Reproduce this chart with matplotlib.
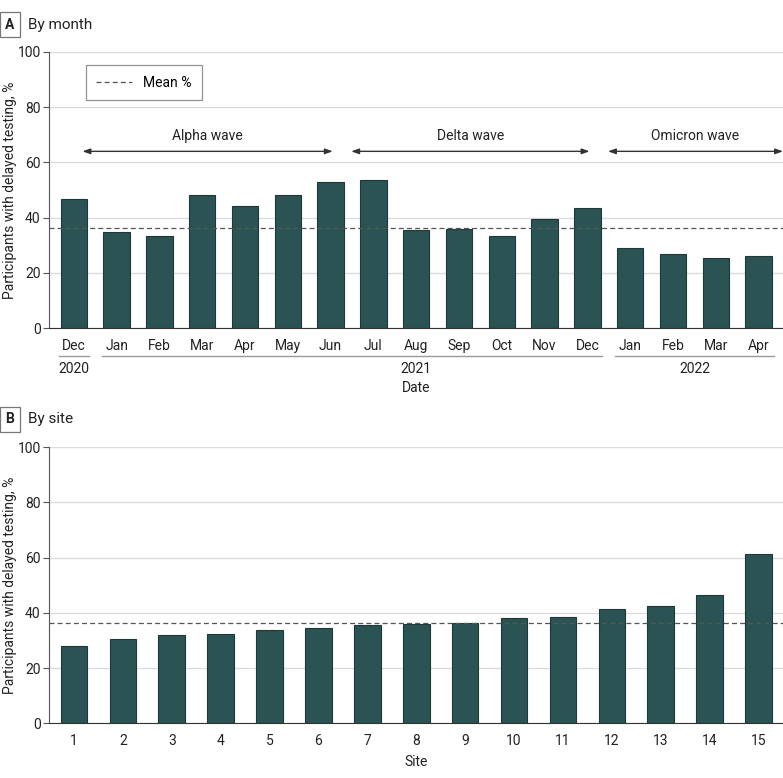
import matplotlib
matplotlib.use('Agg')
import matplotlib.pyplot as plt
import matplotlib.transforms as mtransforms

plt.rcParams['font.family'] = ['Roboto', 'DejaVu Sans']

# panel A data
months = ['Dec', 'Jan', 'Feb', 'Mar', 'Apr', 'May', 'Jun', 'Jul', 'Aug',
          'Sep', 'Oct', 'Nov', 'Dec', 'Jan', 'Feb', 'Mar', 'Apr']
month_pct = [46.6, 34.7, 33.2, 48.1, 44.2, 48.2, 52.8, 53.5, 35.5,
             36.0, 33.3, 39.6, 43.4, 29.1, 26.8, 25.2, 26.2]
years = ['2020', '2021', '2022']
year_span = [(0, 0), (1, 12), (13, 16)]
waves = ['Alpha wave', 'Delta wave', 'Omicron wave']
wave_span = [(0, 6), (6, 12), (12, 16)]

# panel B data
sites = [str(i) for i in range(1, 16)]
site_pct = [27.9, 30.7, 31.9, 32.4, 33.7, 34.4, 35.5, 36.0, 36.3,
            38.0, 38.5, 41.4, 42.5, 46.6, 61.3]
mean_pct = 36.2

bar_col = '#2b5353'
edge_col = '#1e3838'
txt_col = '#222222'
fs = 10

fig = plt.figure(figsize=(7.83, 7.78), dpi=100)
axA = fig.add_axes([0.0626, 0.5784, 0.9374, 0.3548])
axB = fig.add_axes([0.0626, 0.0703, 0.9374, 0.3548])


def style(ax):
    ax.set_ylim(0, 100)
    ax.set_yticks([0, 20, 40, 60, 80, 100])
    ax.yaxis.grid(True, color='#dcdcdc', lw=1)
    ax.set_axisbelow(True)
    for s in ['top', 'right']:
        ax.spines[s].set_visible(False)
    ax.spines['left'].set_color('#555555')
    ax.spines['bottom'].set_color('#333333')
    ax.tick_params(axis='y', length=4, color='#555555', labelsize=fs, labelcolor=txt_col, pad=2)
    ax.tick_params(axis='x', length=0, labelsize=fs, labelcolor=txt_col, pad=8)
    ax.set_ylabel('Participants with delayed testing, %', fontsize=fs, color=txt_col)
    ax.yaxis.set_label_coords(-0.043, 0.5)
    ax.axhline(mean_pct, color='#555555', lw=0.9, ls=(0, (4, 2.5)), label='Mean %', zorder=3)


# ---- A: by month
xa = list(range(len(months)))
axA.bar(xa, month_pct, width=0.62, color=bar_col, edgecolor=edge_col, lw=0.8, zorder=2)
style(axA)
axA.set_xlim(-0.58, 16.57)
axA.set_xticks(xa)
axA.set_xticklabels(months)

for name, (a, b) in zip(waves, wave_span):
    x0 = a + 0.2 if a == 0 else a + 0.48
    x1 = 16.57 if b == 16 else b + 0.05
    axA.annotate('', xy=(x1, 64), xytext=(x0, 64),
                 arrowprops=dict(arrowstyle='<|-|>,head_length=0.45,head_width=0.16',
                                 color='#333333', lw=1, shrinkA=0, shrinkB=0))
    axA.text((x0 + x1) / 2, 67, name, ha='center', va='bottom', fontsize=fs, color=txt_col)

trA = mtransforms.blended_transform_factory(axA.transData, axA.transAxes)
for name, (a, b) in zip(years, year_span):
    axA.plot([a - 0.35, b + 0.35], [-0.1, -0.1], color='#999999', lw=1,
             transform=trA, clip_on=False)
    xc = 8 if name == '2021' else (a + b) / 2
    axA.text(xc, -0.122, name, transform=trA, ha='center', va='top', fontsize=fs, color=txt_col)
axA.text(0.5, -0.192, 'Date', transform=axA.transAxes, ha='center', va='top',
         fontsize=fs, color=txt_col)

leg = axA.legend(loc='upper left', bbox_to_anchor=(0.05, 0.952), fontsize=fs,
                 frameon=True, fancybox=False, handlelength=2.6, borderpad=0.75,
                 borderaxespad=0, handletextpad=0.8)
leg.get_frame().set_edgecolor('#777777')
leg.get_frame().set_linewidth(0.9)

# ---- B: by site
xb = list(range(len(sites)))
axB.bar(xb, site_pct, width=0.545, color=bar_col, edgecolor=edge_col, lw=0.8, zorder=2)
style(axB)
axB.set_xlim(-0.51, 14.5)
axB.set_xticks(xb)
axB.set_xticklabels(sites)
axB.set_xlabel('Site', fontsize=fs, color=txt_col, labelpad=5)

# panel tags
for y, tag, title in [(0.968, 'A', 'By month'), (0.461, 'B', 'By site')]:
    fig.text(0.0128, y, tag, fontsize=fs, fontweight='bold', color=txt_col, va='center', ha='center',
             bbox=dict(boxstyle='square,pad=0.4', fc='white', ec='#777777', lw=0.9))
    fig.text(0.036, y, title, fontsize=11, color=txt_col, va='center', ha='left')

fig.savefig('out.png', dpi=100)
